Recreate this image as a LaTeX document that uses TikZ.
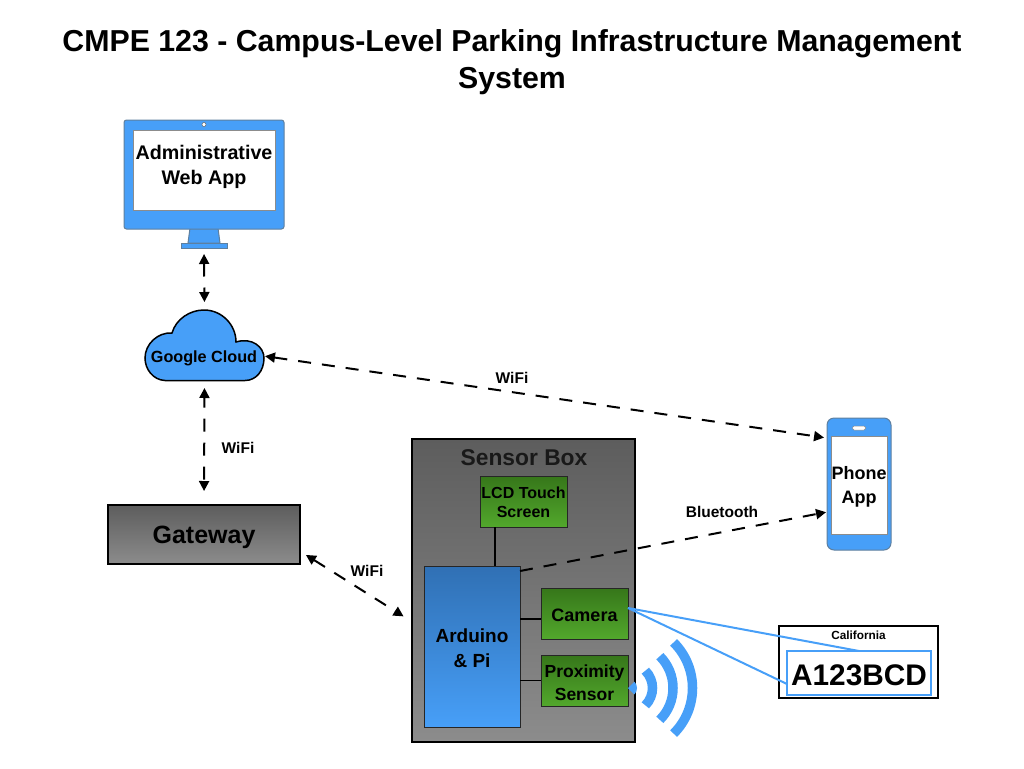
\documentclass[tikz,border=0pt]{standalone}
\usepackage{fontspec}
\setmainfont{Liberation Sans}
\usetikzlibrary{arrows.meta}

\definecolor{appblue}{HTML}{479FF8}
\definecolor{appedge}{HTML}{5E7F9E}
\definecolor{boardblue}{HTML}{3070B4}
\definecolor{darkgreen}{HTML}{36761A}
\definecolor{lightgreen}{HTML}{52A82C}
\definecolor{darkgray}{HTML}{5D5D5D}
\definecolor{lightgray}{HTML}{8C8C8C}

\begin{document}
\begin{tikzpicture}[x=1pt, y=-1pt]

% Overall styles for text and boxes
\tikzstyle{every node}=[inner sep=0pt, outer sep=0pt, align=center]
\tikzstyle{tag}=[font=\bfseries\fontsize{15.5}{18}\selectfont]
\tikzstyle{graybox}=[draw=black, line width=2pt, top color=darkgray, bottom color=lightgray]
\tikzstyle{greenbox}=[draw=black!85, line width=1pt, top color=darkgreen, bottom color=lightgreen]
\tikzstyle{device}=[draw=appedge, line width=1pt, fill=appblue]
\tikzstyle{screen}=[draw=black!45, line width=1pt, fill=white]

% Styles for connectors
\tikzstyle{dashlink}=[line width=2pt, dash pattern=on 13pt off 11pt, -{Triangle[length=10pt, width=10pt]}]
\tikzstyle{twoway}=[dashlink, {Triangle[length=10pt, width=10pt]}-{Triangle[length=10pt, width=10pt]}]
\tikzstyle{wire}=[line width=1.5pt]
\tikzstyle{cameraray}=[line width=2pt, draw=appblue]
\tikzstyle{wave}=[line width=9.5pt, draw=appblue]

\useasboundingbox (0,0) rectangle (1024,768);

\node[font=\bfseries\fontsize{30.3}{37}\selectfont] (title) at (512,62.5) {CMPE 123 - Campus-Level Parking Infrastructure Management\\System};

% Monitor
\node[device, minimum width=46pt, minimum height=5pt] (monitorfoot) at (204,245.5) {};
\draw[device] (190,228) -- (218,228) -- (220,243) -- (188,243) -- cycle;
\node[device, rounded corners=2.5pt, minimum width=160pt, minimum height=109pt] (monitor) at (204,174.5) {};
\node[screen, minimum width=142pt, minimum height=80pt] (monitorscreen) at (204,170) {};
\node[circle, draw=black!60, fill=white, minimum size=4pt, line width=.5pt] (webcam) at (204,124.5) {};
\node[font=\bfseries\fontsize{19.7}{25}\selectfont] (webapp) at (204,166.5) {Administrative\\Web App};

% Cloud, its node only marks the extent of the shape
\draw[fill=appblue, line width=1.5pt] (165,380.5)
	.. controls (153,380) and (145,369) .. (145,358)
	.. controls (145,344) and (158,332) .. (172,333)
	.. controls (176,319) and (190,310) .. (204,310)
	.. controls (222,310) and (236,325) .. (236,342)
	.. controls (252,337) and (264,347) .. (264,358)
	.. controls (264,371) and (256,380.5) .. (245,380.5)
	-- cycle;
\node[minimum width=119pt, minimum height=71pt] (cloud) at (204.5,345.5) {};
\node[font=\bfseries\fontsize{16.2}{19}\selectfont] (cloudname) at (204,358) {Google Cloud};

\node[graybox, minimum width=192pt, minimum height=59pt, text height=18pt, text depth=0pt, font=\bfseries\fontsize{25}{28}\selectfont] (gateway) at (204,534.5) {Gateway};

% Phone
\node[device, rounded corners=7pt, minimum width=64pt, minimum height=132pt] (phone) at (859,484) {};
\node[screen, minimum width=56pt, minimum height=98pt, text height=41pt, font=\bfseries\fontsize{18}{24}\selectfont] (phonescreen) at (859,485) {Phone\\App};
\node[draw=black!45, fill=white, rounded corners=1.5pt, minimum width=13pt, minimum height=4pt, line width=.5pt] (speaker) at (859,428) {};

% Sensor box
\node[graybox, minimum width=223pt, minimum height=303pt] (sensorbox) at (523.5,590.5) {};
\node[font=\bfseries\fontsize{22.8}{26}\selectfont, text=black!90] (sensortitle) at (524,458) {Sensor Box};
\node[greenbox, minimum width=87pt, minimum height=51pt, text height=33pt, font=\bfseries\fontsize{16}{19.5}\selectfont] (lcd) at (523.5,501.5) {LCD Touch\\Screen};
\node[draw=black!85, line width=1pt, top color=boardblue, bottom color=appblue, minimum width=96pt, minimum height=161pt, text height=43pt, font=\bfseries\fontsize{19}{25}\selectfont] (arduino) at (472,646.5) {Arduino\\\& Pi};
\node[greenbox, minimum width=87pt, minimum height=51pt, text height=16pt, text depth=0pt, font=\bfseries\fontsize{18}{22}\selectfont] (camera) at (584.5,613.5) {Camera};
\node[greenbox, minimum width=87pt, minimum height=51pt, text height=39.8pt, font=\bfseries\fontsize{17.5}{23}\selectfont] (proximity) at (584.5,680.5) {Proximity\\Sensor};

\draw[wire] (arduino.north -| lcd.south west) ++(15,0) coordinate (wiretop) -- (wiretop |- lcd.south);
\draw[wire] (arduino.east |- camera) ++(0,5.5) coordinate (wirecam) -- (wirecam -| camera.west);
\draw[wire] (arduino.east |- proximity) coordinate (wireprox) -- (proximity.west);

% License plate
\node[draw=black, line width=2pt, fill=white, minimum width=159pt, minimum height=72pt] (plate) at (858.5,662) {};
\node[font=\bfseries\fontsize{11.8}{14}\selectfont] (state) at (858.5,635) {California};
\node[draw=appblue, line width=2pt, minimum width=144pt, minimum height=44pt, text height=24.5pt, text depth=0pt, font=\bfseries\fontsize{29.8}{34}\selectfont] (platenumber) at (859,673) {A123BCD};

\draw[cameraray] ([yshift=5.5pt]camera.east) -- (platenumber.north);
\draw[cameraray] ([yshift=5.5pt]camera.east) -- ([yshift=-11pt]platenumber.west);

% Signal from the proximity sensor
\coordinate (signal) at (628,688);
\fill[appblue] (signal) -- ++(-45:9) arc (-45:45:9) -- cycle;
\foreach \r in {24.5,45,64.5}
	\draw[wave] (signal) ++(-45:\r) arc (-45:45:\r);

% Connectors between the nodes
\draw[twoway, shorten <=6pt, shorten >=8pt] (monitorfoot.south) -- (cloud.north);
\draw[twoway, dash phase=3pt, shorten <=7pt, shorten >=14pt] (cloud.south) -- (gateway.north);
\draw[twoway, shorten <=1pt, shorten >=3pt] ([yshift=-10.5pt]cloud.east) -- ([yshift=46pt]phone.west);
\draw[twoway, shorten <=7pt, shorten >=10pt] ([yshift=-16.7pt]gateway.east) -- ([yshift=-31.2pt]sensorbox.west);
\draw[dashlink, shorten >=1pt] ([yshift=75.5pt]arduino.east) -- ([yshift=-28pt]phone.west);

\node[tag] (wificloud) at (238,448) {WiFi};
\node[tag] (wifiphone) at (512,378) {WiFi};
\node[tag] (wifibox) at (367,571) {WiFi};
\node[tag] (bluetooth) at (722,512) {Bluetooth};

\end{tikzpicture}
\end{document}
